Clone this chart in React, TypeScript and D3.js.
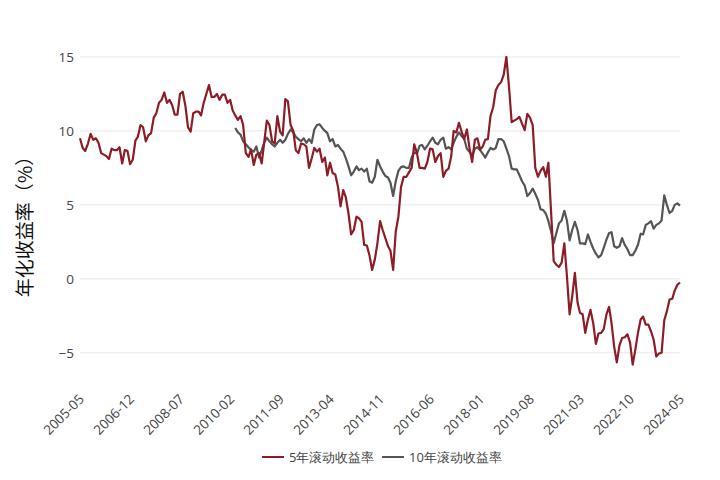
import React from "react";
import * as d3 from "d3";

const START_MONTH = "2005-05";
const END_MONTH = "2024-05";
const SERIES_NAMES = ["5年滚动收益率", "10年滚动收益率"];
const TICK_LABELS = [
  "2005-05", "2006-12", "2008-07", "2010-02", "2011-09", "2013-04", "2014-11",
  "2016-06", "2018-01", "2019-08", "2021-03", "2022-10", "2024-05",
];
const Y_TICKS = [-5, 0, 5, 10, 15];

// 5-year rolling annualized return, monthly from 2005-05
const roll5 = [
  9.5, 8.85, 8.65, 9.15, 9.8, 9.4, 9.5, 9.2, 8.5, 8.4,
  8.3, 8.1, 8.8, 8.7, 8.7, 8.9, 7.8, 8.7, 8.65, 7.75,
  8.05, 9.35, 9.6, 10.4, 10.25, 9.3, 9.7, 9.85, 10.9, 11.2,
  11.9, 12.1, 12.6, 11.9, 12.1, 11.75, 11.1, 11.1, 12.5, 12.65,
  11.7, 10.25, 9.95, 11.2, 11.3, 11.3, 11.05, 11.9, 12.5, 13.1,
  12.3, 12.3, 12.5, 12.1, 12.45, 12.45, 11.9, 12.1, 11.4, 11.05,
  10.75, 11.0, 10.4, 8.5, 8.25, 8.75, 7.7, 8.4, 8.5, 7.8,
  9.2, 10.7, 10.4, 9.3, 9.15, 11.0, 9.95, 9.7, 12.15, 12.0,
  10.4, 10.0, 8.7, 8.5, 9.15, 9.1, 8.95, 7.5, 8.15, 8.85,
  8.6, 8.8, 7.9, 8.2, 7.0, 7.85, 7.15, 7.05, 6.25, 4.9,
  6.0, 5.5, 4.4, 3.0, 3.3, 4.2, 4.1, 3.85, 2.3, 2.25,
  1.6, 0.6, 1.3, 2.4, 3.9, 3.3, 2.75, 2.2, 1.9, 0.6,
  3.2, 4.2, 6.2, 6.9, 6.9, 7.2, 7.5, 9.1, 8.5, 7.5,
  7.5, 7.45, 7.9, 8.8, 8.75, 7.9, 8.3, 8.5, 6.9, 7.3,
  7.45, 8.3, 10.0, 9.9, 10.55, 9.95, 9.45, 10.1, 8.8, 7.9,
  9.4, 9.5, 8.75, 8.95, 9.4, 9.45, 11.0, 11.6, 12.75, 13.1,
  13.3, 13.8, 15.0, 13.0, 10.6, 10.7, 10.8, 10.95, 10.5, 10.05,
  11.15, 10.9, 10.4, 7.5, 6.9, 7.3, 7.55, 6.9, 7.85, 4.5,
  1.2, 0.95, 0.8, 1.1, 2.4, 0.2, -2.4, -1.2, 0.4, -1.6,
  -2.3, -2.4, -3.65, -2.75, -2.1, -3.0, -4.4, -3.7, -3.65, -3.4,
  -2.4, -1.9, -3.0, -4.6, -5.65, -4.5, -4.0, -3.95, -3.75, -4.3,
  -5.8, -4.8, -3.65, -2.75, -2.55, -3.1, -3.1, -3.55, -4.1, -5.25,
  -5.05, -5.0, -2.8, -2.2, -1.4, -1.35, -0.8, -0.4, -0.25,
];

// 10-year rolling annualized return, monthly from 2010-04
const ROLL10_START = "2010-04";
const roll10 = [
  10.2, 9.9, 9.75, 9.3, 9.1, 8.9, 8.7, 8.6, 8.95, 8.2,
  8.7, 9.2, 9.55, 9.3, 9.1, 8.95, 9.2, 9.4, 9.2, 9.4,
  9.8, 10.1, 9.9, 9.6, 9.45, 9.3, 9.5, 9.2, 9.45, 9.2,
  10.1, 10.4, 10.45, 10.2, 10.0, 9.85, 9.3, 9.45, 8.95, 9.05,
  8.8, 8.6, 8.15, 7.6, 7.0, 7.25, 7.6, 7.35, 7.45, 7.25,
  7.45, 6.6, 6.5, 6.9, 8.05, 7.6, 7.25, 6.95, 6.85, 6.5,
  5.6, 6.6, 7.3, 7.55, 7.6, 7.5, 7.5, 8.2, 8.55, 8.45,
  9.0, 9.05, 8.75, 9.0, 9.3, 9.55, 9.2, 9.1, 9.4, 9.55,
  8.8, 8.9, 8.75, 9.2, 9.6, 9.9, 9.65, 9.45, 8.8, 8.6,
  8.3, 8.8, 8.9, 8.7, 8.45, 8.2, 8.55, 8.85, 8.75, 8.85,
  9.45, 9.45, 9.3, 8.8, 8.3, 7.45, 7.4, 7.4, 7.0, 6.6,
  6.3, 5.6, 5.8, 6.1, 5.75, 5.35, 4.7, 4.65, 4.4, 3.9,
  3.2, 2.4, 3.1, 3.75, 3.95, 4.6, 3.95, 2.6, 3.3, 3.85,
  3.3, 2.4, 2.4, 2.35, 3.0, 2.5, 2.05, 1.7, 1.45, 1.6,
  2.1, 2.65, 3.1, 3.15, 2.2, 2.1, 2.2, 2.75, 2.3, 2.0,
  1.6, 1.6, 1.9, 2.3, 3.05, 3.0, 3.65, 3.75, 3.9, 3.4,
  3.65, 3.75, 3.95, 5.65, 5.0, 4.45, 4.6, 5.0, 5.1, 4.95,
];

const COLORS = ["#8c1c25", "#555555"];

const parseMonth = d3.timeParse("%Y-%m");

function monthSeries(start: string, values: number[]) {
  const s = parseMonth(start) as Date;
  return values.map((v, i) => ({ date: d3.timeMonth.offset(s, i), value: v }));
}

export default function App() {
  const W = 720;
  const H = 480;
  const left = 80;
  const right = 680;
  const top = 41.6;
  const bottom = 380;

  const x = d3
    .scaleTime()
    .domain([parseMonth(START_MONTH) as Date, parseMonth(END_MONTH) as Date])
    .range([left, right]);
  const y = d3.scaleLinear().domain([-6.84, 16.04]).range([bottom, top]);

  const line = d3
    .line<{ date: Date; value: number }>()
    .x((d) => x(d.date))
    .y((d) => y(d.value));

  const s5 = monthSeries(START_MONTH, roll5);
  const s10 = monthSeries(ROLL10_START, roll10);

  const tickFont = "'Open Sans', 'Noto Sans', sans-serif";

  return (
    <svg
      width={W}
      height={H}
      style={{ position: "absolute", left: 0, top: 0, background: "#fff" }}
    >
      {Y_TICKS.map((t) => (
        <g key={t}>
          <line x1={left} x2={right} y1={y(t)} y2={y(t)} stroke="#e8e8e8" strokeWidth={1} />
          <text
            x={left - 6}
            y={y(t)}
            dy="0.36em"
            textAnchor="end"
            fontSize={13.5}
            fill="#444"
            fontFamily={tickFont}
          >
            {t < 0 ? "\u2212" + Math.abs(t) : String(t)}
          </text>
        </g>
      ))}
      {TICK_LABELS.map((lab) => {
        const px = x(parseMonth(lab) as Date);
        return (
          <text
            key={lab}
            transform={`translate(${px + 5},${bottom + 20}) rotate(-45)`}
            textAnchor="end"
            fontSize={13.5}
            fill="#444"
            fontFamily={tickFont}
          >
            {lab}
          </text>
        );
      })}
      <path d={line(s10) || ""} fill="none" stroke={COLORS[1]} strokeWidth={2.2} strokeLinejoin="round" />
      <path d={line(s5) || ""} fill="none" stroke={COLORS[0]} strokeWidth={2.2} strokeLinejoin="round" />
      <text
        transform={`translate(32,222) rotate(-90)`}
        textAnchor="middle"
        fontSize={19}
        fill="#111"
        fontFamily="'Noto Sans CJK SC', sans-serif"
      >
        年化收益率（%）
      </text>
      {SERIES_NAMES.map((name, i) => {
        const lx = i === 0 ? 262 : 382;
        return (
          <g key={name}>
            <line x1={lx} x2={lx + 22} y1={457} y2={457} stroke={COLORS[i]} strokeWidth={2} />
            <text
              x={lx + 27}
              y={457}
              dy="0.35em"
              fontSize={13}
              fill="#444"
              fontFamily={tickFont}
            >
              {name}
            </text>
          </g>
        );
      })}
    </svg>
  );
}
